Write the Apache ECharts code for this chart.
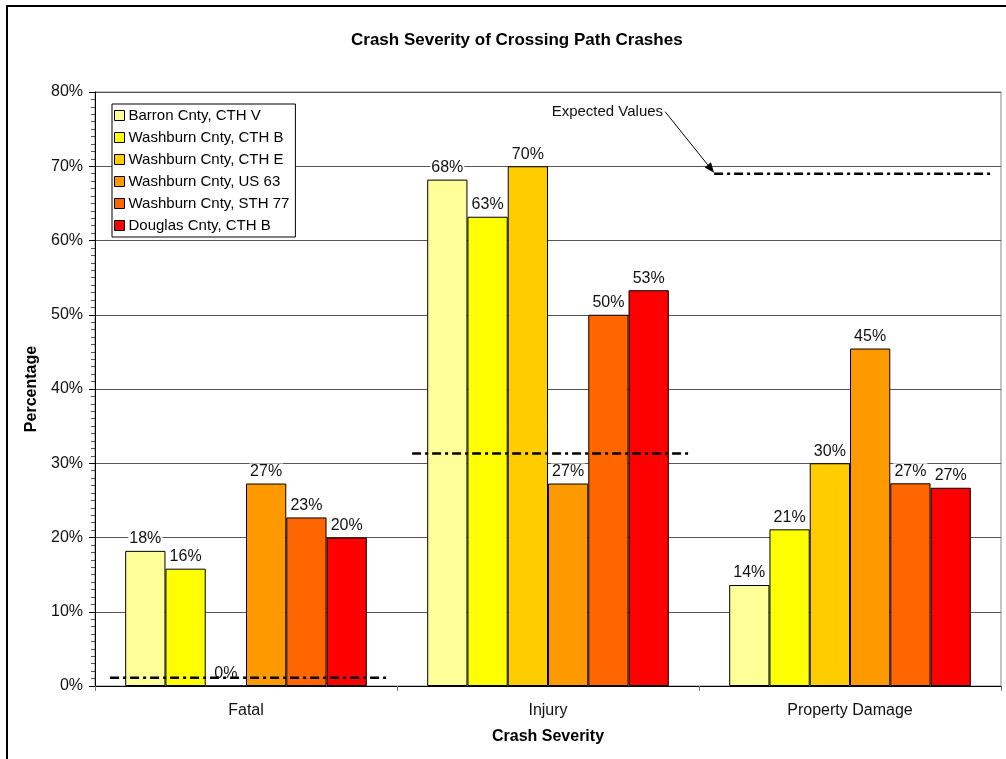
<!DOCTYPE html>
<html>
<head>
<meta charset="utf-8">
<script src="https://cdn.jsdelivr.net/npm/echarts@6/dist/echarts.min.js"></script>
<style>
html,body{margin:0;padding:0;background:#fff;}
#chart{width:1006px;height:759px;}
</style>
</head>
<body>
<div id="chart"></div>
<script>
const categories = ['Fatal', 'Injury', 'Property Damage'];
const seriesNames = ['Barron Cnty, CTH V', 'Washburn Cnty, CTH B', 'Washburn Cnty, CTH E',
  'Washburn Cnty, US 63', 'Washburn Cnty, STH 77', 'Douglas Cnty, CTH B'];
const barronCTHV = [18.2, 68.2, 13.6];
const washburnCTHB = [15.8, 63.2, 21.1];
const washburnCTHE = [0, 70.0, 30.0];
const washburnUS63 = [27.27, 27.27, 45.45];
const washburnSTH77 = [22.7, 50.0, 27.3];
const douglasCTHB = [20.0, 53.3, 26.7];
const expectedValues = [1.1, 31.3, 69.0];
const yTicks = [0, 10, 20, 30, 40, 50, 60, 70, 80];
const colors = ['#FFFF99', '#FFFF00', '#FFCC00', '#FF9900', '#FF6600', '#FF0000'];

const allValues = [barronCTHV, washburnCTHB, washburnCTHE, washburnUS63, washburnSTH77, douglasCTHB];
const FONT = "'Liberation Sans', Arial, sans-serif";

const chart = echarts.init(document.getElementById('chart'));

const barSeries = seriesNames.map((name, i) => ({
  name: name,
  type: 'bar',
  data: allValues[i],
  barGap: '0%',
  barCategoryGap: '20%',
  itemStyle: { color: colors[i], borderColor: '#000', borderWidth: 1 },
  label: {
    show: true,
    position: 'top',
    distance: 4,
    color: '#111',
    fontFamily: FONT,
    fontSize: 16,
    backgroundColor: '#fff',
    padding: [0, 1],
    formatter: p => Math.round(p.value) + '%'
  },
  z: 2
}));

const expectedSeries = {
  name: 'Expected Values',
  type: 'custom',
  data: expectedValues.map((v, i) => [i, v]),
  encode: { x: 0, y: 1 },
  z: 5,
  silent: true,
  renderItem: (params, api) => {
    const c = api.coord([api.value(0), api.value(1)]);
    const bw = api.size([1, 0])[0];
    return {
      type: 'line',
      shape: { x1: c[0] - 0.45 * bw, y1: c[1], x2: c[0] + 0.47 * bw, y2: c[1] },
      style: { stroke: '#000', lineWidth: 2.5, lineDash: [9, 4, 3, 4] }
    };
  }
};

chart.setOption({
  animation: false,
  backgroundColor: '#fff',
  textStyle: { fontFamily: FONT },
  title: {
    text: 'Crash Severity of Crossing Path Crashes',
    left: 346,
    top: 27,
    textStyle: { fontFamily: FONT, fontSize: 17, fontWeight: 'bold', color: '#000' }
  },
  legend: {
    data: seriesNames,
    orient: 'vertical',
    left: 112,
    top: 104,
    backgroundColor: '#fff',
    borderColor: '#000',
    borderWidth: 1,
    borderRadius: 0,
    padding: [3, 6, 3, 2],
    itemGap: 5,
    itemWidth: 10,
    itemHeight: 10,
    icon: 'rect',
    itemStyle: { borderColor: '#000', borderWidth: 1 },
    textStyle: { fontFamily: FONT, fontSize: 15, color: '#000', lineHeight: 17, padding: [0, 0, 0, -1] }
  },
  grid: { left: 95, right: 5, top: 92, bottom: 73, show: true, borderColor: '#888', borderWidth: 1, backgroundColor: 'transparent' },
  xAxis: {
    type: 'category',
    data: categories,
    name: 'Crash Severity',
    nameLocation: 'middle',
    nameGap: 43,
    nameTextStyle: { fontFamily: FONT, fontSize: 16, fontWeight: 'bold', color: '#000' },
    axisLine: { lineStyle: { color: '#000', width: 1 } },
    axisTick: { show: true, interval: 0, alignWithLabel: false, length: 5, lineStyle: { color: '#777' } },
    axisLabel: { fontFamily: FONT, fontSize: 16, color: '#111', margin: 17 },
    splitLine: { show: false }
  },
  yAxis: {
    type: 'value',
    min: yTicks[0],
    max: yTicks[yTicks.length - 1],
    interval: yTicks[1] - yTicks[0],
    name: 'Percentage',
    nameLocation: 'middle',
    nameGap: 55,
    nameRotate: 90,
    nameTextStyle: { fontFamily: FONT, fontSize: 16, fontWeight: 'bold', color: '#000' },
    axisLine: { show: true, lineStyle: { color: '#000', width: 1 } },
    axisTick: { show: true, length: 6, lineStyle: { color: '#000' } },
    minorTick: { show: true, splitNumber: 10, length: 4, lineStyle: { color: '#555' } },
    axisLabel: { fontFamily: FONT, fontSize: 16, color: '#111', margin: 12, formatter: '{value}%' },
    splitLine: { show: true, lineStyle: { color: '#555', width: 1 } }
  },
  series: barSeries.concat([expectedSeries])
});

// Annotation: "Expected Values" arrow pointing at the start of the last expected-value line
const pEnd = chart.convertToPixel({ xAxisIndex: 0, yAxisIndex: 0 }, [2, expectedValues[2]]);
const p0 = chart.convertToPixel({ xAxisIndex: 0 }, 0);
const p1 = chart.convertToPixel({ xAxisIndex: 0 }, 1);
const band = p1 - p0;
const ax = pEnd[0] - 0.45 * band;
const ay = pEnd[1] - 1;
const sx = ax - 49, sy = ay - 61;
const ang = Math.atan2(ay - sy, ax - sx);
const hl = 10, hw = 4;
const bx = ax - hl * Math.cos(ang), by = ay - hl * Math.sin(ang);
const nx = -Math.sin(ang), ny = Math.cos(ang);

chart.setOption({
  graphic: [
    {
      type: 'rect', silent: true, z: -10,
      shape: { x: 7, y: 6, width: 1200, height: 1000 },
      style: { fill: 'none', stroke: '#000', lineWidth: 2 }
    },
    {
      type: 'text', silent: true, z: 10,
      x: sx - 2, y: sy,
      style: { text: 'Expected Values', fill: '#111', font: '15px ' + FONT, textAlign: 'right', textVerticalAlign: 'middle' }
    },
    {
      type: 'line', silent: true, z: 10,
      shape: { x1: sx, y1: sy, x2: bx, y2: by },
      style: { stroke: '#000', lineWidth: 1 }
    },
    {
      type: 'polygon', silent: true, z: 10,
      shape: { points: [[ax, ay], [bx + nx * hw, by + ny * hw], [bx - nx * hw, by - ny * hw]] },
      style: { fill: '#000' }
    }
  ]
});
</script>
</body>
</html>
